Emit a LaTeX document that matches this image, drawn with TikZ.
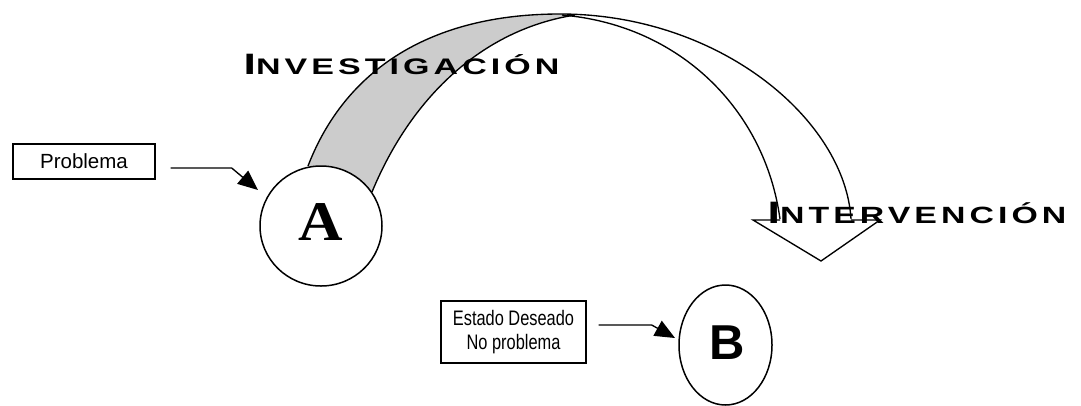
\documentclass[tikz,border=0pt]{standalone}
\usepackage{fontspec}
\setmainfont{Liberation Sans}
\newfontfamily\copfont[LetterSpace=12]{Liberation Sans}
\newfontfamily\serfont{Liberation Serif}
\usetikzlibrary{arrows.meta,shapes.geometric,calc}
\definecolor{ribbongray}{RGB}{204,204,204}
\begin{document}
\begin{tikzpicture}[x=1pt,y=-1pt,line width=1.35pt,
  lbox/.style={draw,line width=1.35pt,inner sep=0pt,align=center},
  ball/.style={draw,ellipse,fill=white,line width=1.5pt,inner sep=0pt},
  arr/.style={line width=1.35pt,-{Triangle[length=20pt,width=17pt]}},
  big/.style={anchor=base west,inner sep=0pt}]
\useasboundingbox (0,0) rectangle (1081,405);
% ribbon arrow
\fill[ribbongray] (308,166) .. controls (345,70) and (430,14) .. (560,14)
   -- (575,15) .. controls (480,30) and (410,100) .. (372,192) -- (330,215) -- cycle;
\draw (308,166) .. controls (345,70) and (430,14) .. (560,14)
   .. controls (720,14) and (845,120) .. (851,219);
\draw (372,192) .. controls (410,100) and (480,30) .. (575,15);
\draw (562,15) .. controls (680,25) and (765,110) .. (780,219);
\draw[line join=miter] (780,220) -- (753,220) -- (821,261) -- (880,220) -- (851,220);
% nodes
\node[ball,minimum width=122pt,minimum height=120pt] (A) at (321,226) {};
\node at (321,222) {\scalebox{1.1}[1]{\fontsize{56}{56}\selectfont\serfont\bfseries A}};
\node[ball,minimum width=93pt,minimum height=120pt] (B) at (725.5,345) {};
\node at (727,343) {\fontsize{49}{49}\selectfont\bfseries B};
\node[lbox,minimum width=142pt,minimum height=35pt,font=\fontsize{20.5}{24}\selectfont] (prob) at (84,161.5) {Problema};
\node[lbox,minimum width=145pt,minimum height=62pt,font=\fontsize{21}{24}\selectfont] (est) at (513.5,332)
  {\scalebox{0.78}[1]{Estado Deseado}\\\scalebox{0.78}[1]{No problema}};
% titles
\node[big] (inv) at (243,74) {\scalebox{1.51}[1]{\copfont\bfseries{\fontsize{29.5}{30}\selectfont I}{\fontsize{22.5}{24}\selectfont NVESTIGACIÓN}}};
\node[big] (int) at (767,223) {\scalebox{1.44}[1]{\copfont\bfseries{\fontsize{31}{32}\selectfont I}{\fontsize{23.5}{24}\selectfont NTERVENCIÓN}}};
% connectors
\draw[arr] ([xshift=15pt,yshift=-6.5pt]prob.east) -- ++(61,0) -- ($(A.center)+(-63,-36)$);
\draw[arr] ([xshift=12pt,yshift=7pt]est.east) -- ++(53,0) -- ($(B.center)+(-50.5,-7)$);
\end{tikzpicture}
\end{document}
